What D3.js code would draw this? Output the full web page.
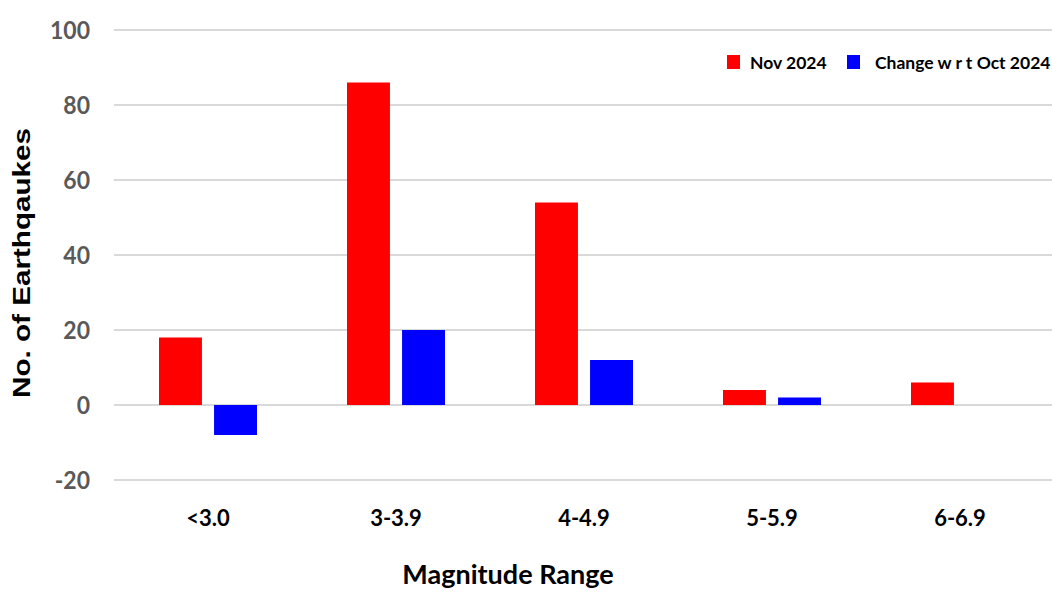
<!DOCTYPE html>
<html>
<head>
<meta charset="utf-8">
<script src="https://d3js.org/d3.v7.min.js"></script>
<style>
  body { margin:0; background:#fff; }
  svg { display:block; }
</style>
</head>
<body>
<script>
// data
var categories = ["<3.0", "3-3.9", "4-4.9", "5-5.9", "6-6.9"];
var novValues = [18, 86, 54, 4, 6];
var changeValues = [-8, 20, 12, 2, 0];
var seriesNames = ["Nov 2024", "Change w r t Oct 2024"];
var seriesColors = ["#ff0000", "#0000ff"];
var yTicks = [-20, 0, 20, 40, 60, 80, 100];

var width = 1052, height = 592;
var svg = d3.select("body").append("svg").attr("width", width).attr("height", height);

var x = d3.scaleBand().domain(categories).range([114, 1054]);
var y = d3.scaleLinear().domain([-20, 100]).range([480, 30]);
// bars inside each category band
var inner = d3.scaleBand().domain([0, 1]).range([45, 143]).paddingInner(0.22);

// gridlines
svg.append("g").selectAll("line").data(yTicks).enter().append("line")
  .attr("x1", 114).attr("x2", width)
  .attr("y1", function(d){ return y(d); }).attr("y2", function(d){ return y(d); })
  .attr("stroke", "#d9d9d9").attr("stroke-width", 2);

// y tick labels
svg.append("g").selectAll("text").data(yTicks).enter().append("text")
  .attr("transform", function(d){ return "translate(90," + y(d) + ") scale(1,1.1)"; })
  .attr("dy", "0.36em")
  .attr("text-anchor", "end")
  .style("font-family", "Lato, sans-serif").style("font-weight", "bold")
  .style("font-size", "23px").style("fill", "#595959")
  .text(function(d){ return d; });

// bars
var series = [novValues, changeValues];
series.forEach(function(vals, s){
  svg.append("g").selectAll("rect").data(vals).enter().append("rect")
    .attr("x", function(d, i){ return x(categories[i]) + inner(s); })
    .attr("width", inner.bandwidth())
    .attr("y", function(d){ return y(Math.max(0, d)); })
    .attr("height", function(d){ return Math.abs(y(d) - y(0)); })
    .attr("fill", seriesColors[s]);
});

// x category labels
svg.append("g").selectAll("text").data(categories).enter().append("text")
  .attr("x", function(d){ return x(d) + x.bandwidth() / 2; })
  .attr("y", 526)
  .attr("text-anchor", "middle")
  .style("font-family", "Lato, sans-serif").style("font-weight", "bold")
  .style("font-size", "22px").style("fill", "#000")
  .text(function(d){ return d; });

// axis titles
svg.append("text")
  .attr("x", 508).attr("y", 584)
  .attr("text-anchor", "middle")
  .style("font-family", "Lato, sans-serif").style("font-weight", "bold")
  .style("font-size", "27px").style("fill", "#000")
  .text("Magnitude Range");

svg.append("text")
  .attr("transform", "translate(30,263) rotate(-90)")
  .attr("text-anchor", "middle")
  .attr("textLength", 270).attr("lengthAdjust", "spacingAndGlyphs")
  .style("font-family", "'Liberation Sans', Arial, sans-serif").style("font-weight", "bold")
  .style("font-size", "24px").style("fill", "#000")
  .text("No. of Earthqaukes");

// legend
var legendX = [727, 847];
seriesNames.forEach(function(name, s){
  svg.append("rect").attr("x", legendX[s]).attr("y", 55).attr("width", 13).attr("height", 14)
    .attr("fill", seriesColors[s]);
  svg.append("text").attr("x", legendX[s] + (s == 0 ? 23 : 28)).attr("y", 69)
    .style("font-family", "Lato, sans-serif").style("font-weight", "bold")
    .style("font-size", "17.5px").style("fill", "#000")
    .text(name);
});
</script>
</body>
</html>
